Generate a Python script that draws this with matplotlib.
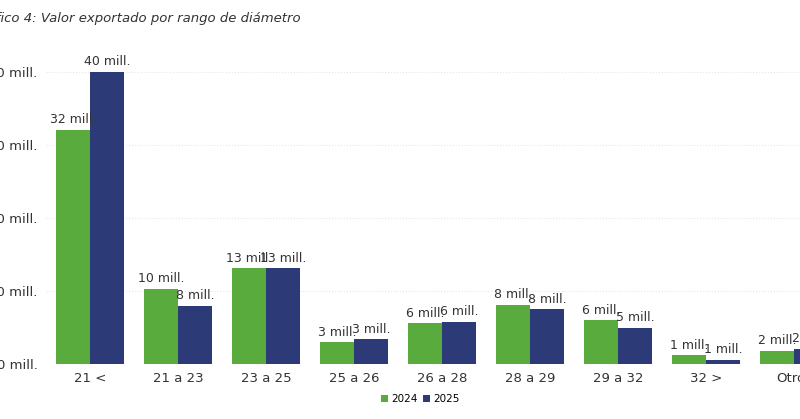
import numpy as np
import matplotlib.pyplot as plt

categories = ["21 <", "21 a 23", "23 a 25", "25 a 26", "26 a 28", "28 a 29", "29 a 32", "32 >", "Otros"]
v2024 = [32.0, 10.3, 13.1, 3.0, 5.6, 8.1, 6.0, 1.2, 1.8]
v2025 = [40.0, 8.0, 13.1, 3.4, 5.8, 7.5, 5.0, 0.6, 2.1]
yticks = [0, 10, 20, 30, 40]

green = "#5aab3e"
navy = "#2d3a78"

fig = plt.figure(figsize=(8, 4.19), dpi=100)
ax = fig.add_axes([0.0575, 0.131, 0.99, 0.733])
x = np.arange(len(categories))
w = 0.39
b1 = ax.bar(x - w / 2, v2024, w, color=green, label="2024")
b2 = ax.bar(x + w / 2, v2025, w, color=navy, label="2025")
for bars in (b1, b2):
    for r in bars:
        ax.text(r.get_x() + r.get_width() / 2, r.get_height() + 0.5,
                f"{int(round(r.get_height()))} mill.", ha="center", va="bottom",
                fontsize=9, color="#333333")

ax.set_xlim(-0.5, len(categories) - 0.5)
ax.set_ylim(0, 42)
ax.set_xticks(x)
ax.set_xticklabels(categories, fontsize=9.5, color="#333333")
ax.set_yticks(yticks)
ax.set_yticklabels([f"{t} mill." for t in yticks], fontsize=9.5, color="#333333")
ax.tick_params(length=0, pad=6)
ax.grid(axis="y", color="#e6e6e6", linestyle=":", linewidth=0.8)
ax.set_axisbelow(True)
for s in ax.spines.values():
    s.set_visible(False)

fig.text(-0.035, 0.955, "Gráfico 4: Valor exportado por rango de diámetro",
         fontsize=9.5, style="italic", color="#333333", va="center")
fig.legend(handles=[b1, b2], loc="center", bbox_to_anchor=(0.525, 0.048), ncol=2,
           frameon=False, fontsize=7.5, handlelength=0.7, handleheight=0.7,
           columnspacing=0.5, handletextpad=0.3)
fig.savefig("out.png", dpi=100)
